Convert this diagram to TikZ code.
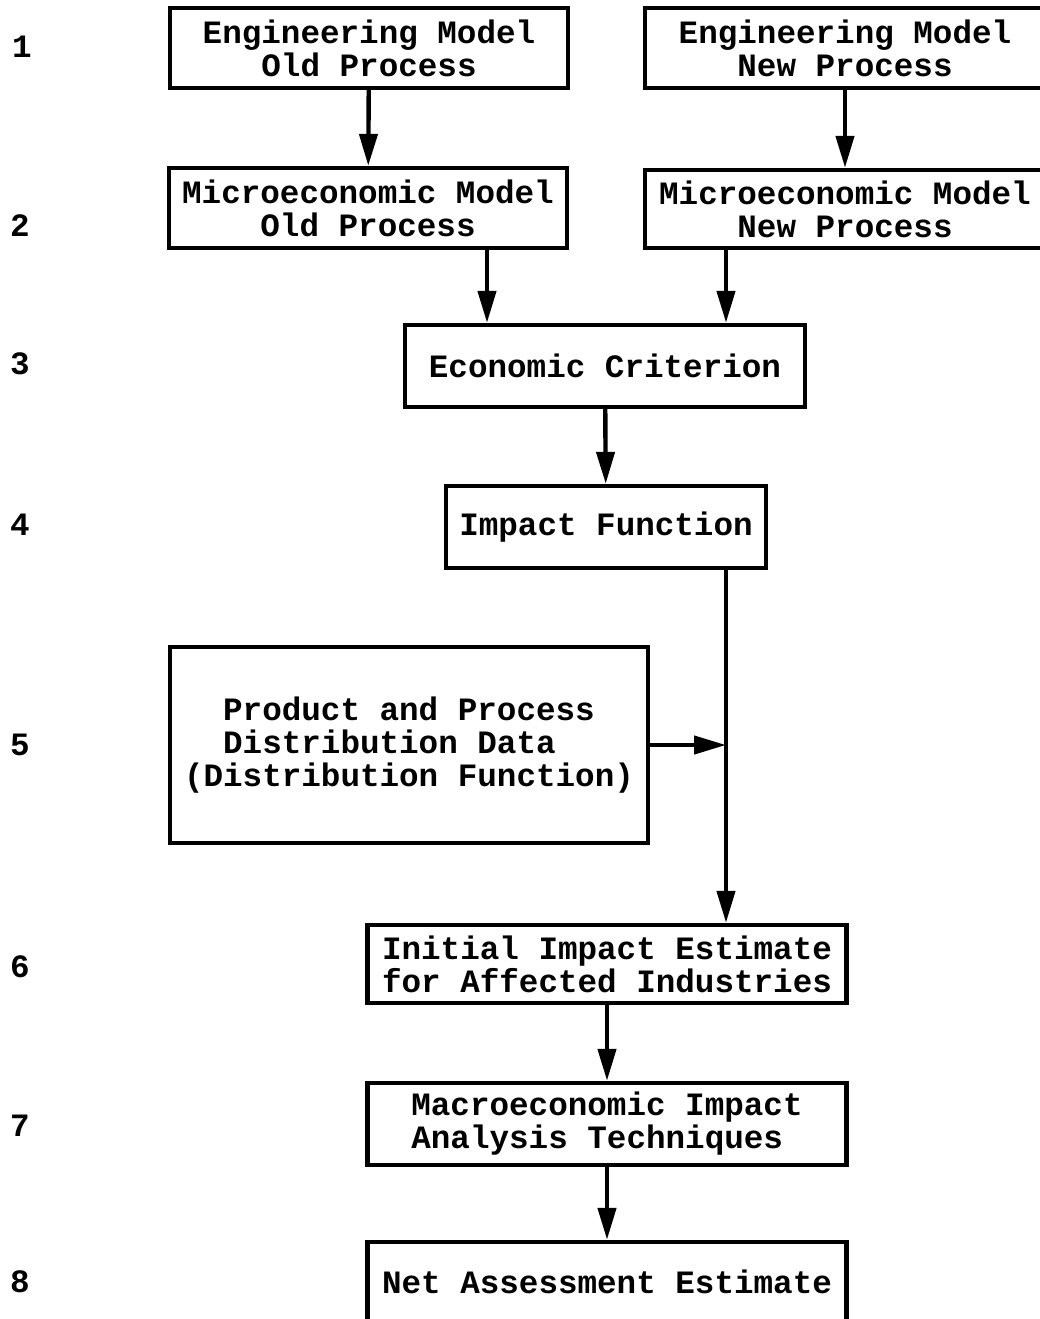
\documentclass[tikz,border=0pt]{standalone}
\usepackage{fontspec}
\usetikzlibrary{arrows.meta}
\newfontfamily\typewriter{Liberation Mono}
\begin{document}
\begin{tikzpicture}[x=0.5pt,y=-0.5pt,
  every node/.style={font=\typewriter\bfseries\fontsize{16.3pt}{16.5pt}\selectfont},
  box/.style={draw,line width=2.2pt,inner sep=0pt,align=center},
  arr/.style={line width=2.2pt,-{Triangle[length=16pt,width=9pt]}},
  rownum/.style={anchor=center}]
\useasboundingbox (0,0) rectangle (1040,1319);

% row numbers down the left margin
\node[rownum] (n1) at (22,47)   {1};
\node[rownum] (n2) at (20,226)  {2};
\node[rownum] (n3) at (20,364)  {3};
\node[rownum] (n4) at (20,525)  {4};
\node[rownum] (n5) at (20,745)  {5};
\node[rownum] (n6) at (20,967)  {6};
\node[rownum] (n7) at (20,1126) {7};
\node[rownum] (n8) at (20,1282) {8};

% process boxes
\node[box,minimum width=199pt,minimum height=40pt] (b1L) at (369,48)
  {Engineering Model\\Old Process};
\node[box,minimum width=200pt,minimum height=40pt] (b1R) at (845,48)
  {Engineering Model\\New Process};
\node[box,minimum width=199pt,minimum height=40pt] (b2L) at (368,208)
  {Microeconomic Model\\Old Process};
\node[box,minimum width=200pt,minimum height=39pt] (b2R) at (845,209)
  {Microeconomic Model\\New Process};
\node[box,minimum width=200pt,minimum height=41pt] (b3) at (605,366)
  {Economic Criterion};
\node[box,minimum width=160pt,minimum height=41pt] (b4) at (606,527)
  {Impact Function};
\node[box,minimum width=239pt,minimum height=98pt,align=left] (b5) at (409,745)
  {\hphantom{MM}Product and Process\\\hphantom{MM}Distribution Data\\(Distribution Function)};
\node[box,minimum width=239.5pt,minimum height=39pt] (b6) at (607,964)
  {Initial Impact Estimate\\for Affected Industries};
\node[box,minimum width=239.5pt,minimum height=41pt,align=left] (b7) at (607,1124)
  {Macroeconomic Impact\\Analysis Techniques};
\node[box,minimum width=239.5pt,minimum height=40pt] (b8) at (607,1282)
  {Net Assessment Estimate};

% vertical lanes for the connectors
\coordinate (xa) at (487,0);
\coordinate (xb) at (726,0);

% connectors
\draw[arr] (b1L) -- (b2L);
\draw[arr] (b1R) -- (b2R);
\draw[arr] (b2L.south -| xa) -- (b3.north -| xa);
\draw[arr] (b2R.south -| xb) -- (b3.north -| xb);
\draw[arr] (b3) -- (b4);
\draw[arr] (b4.south -| xb) -- (b6.north -| xb);
\draw[arr] (b5.east) -- (b5.east -| xb);
\draw[arr] (b6) -- (b7);
\draw[arr] (b7) -- (b8);
\end{tikzpicture}
\end{document}
